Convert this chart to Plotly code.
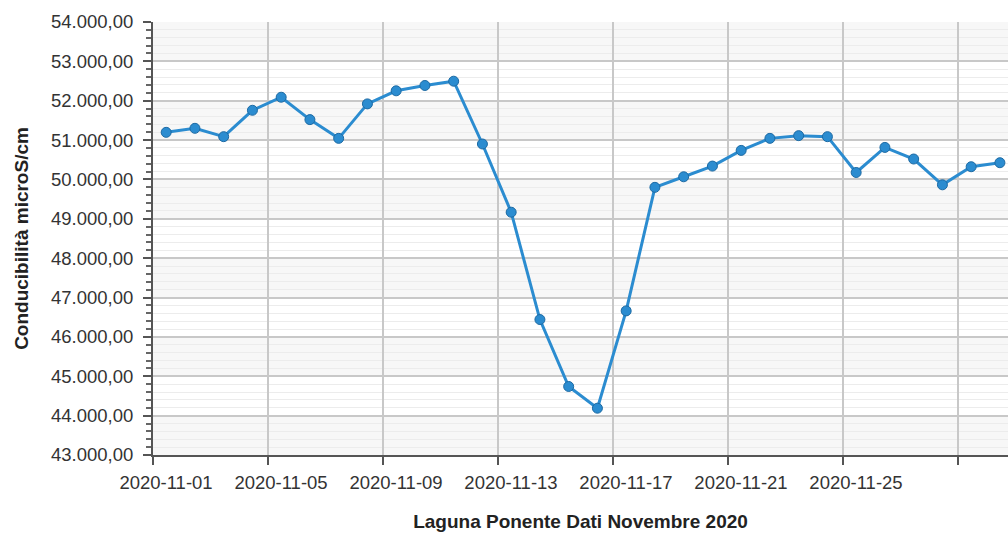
import plotly.graph_objects as go

# Data
dates = [
    "2020-11-01T11:00", "2020-11-02T11:00", "2020-11-03T11:00", "2020-11-04T11:00",
    "2020-11-05T11:00", "2020-11-06T11:00", "2020-11-07T11:00", "2020-11-08T11:00",
    "2020-11-09T11:00", "2020-11-10T11:00", "2020-11-11T11:00", "2020-11-12T11:00",
    "2020-11-13T11:00", "2020-11-14T11:00", "2020-11-15T11:00", "2020-11-16T11:00",
    "2020-11-17T11:00", "2020-11-18T11:00", "2020-11-19T11:00", "2020-11-20T11:00",
    "2020-11-21T11:00", "2020-11-22T11:00", "2020-11-23T11:00", "2020-11-24T11:00",
    "2020-11-25T11:00", "2020-11-26T11:00", "2020-11-27T11:00", "2020-11-28T11:00",
    "2020-11-29T11:00", "2020-11-30T11:00",
]
conductivity = [
    51197, 51299, 51087, 51757, 52089, 51520, 51044, 51920, 52252, 52387,
    52496, 50901, 49168, 46441, 44741, 44189, 46661, 49800, 50068, 50340,
    50738, 51044, 51113, 51087, 50177, 50814, 50519, 49864, 50323, 50425,
]
x_tickvals = ["2020-11-01", "2020-11-05", "2020-11-09", "2020-11-13",
              "2020-11-17", "2020-11-21", "2020-11-25", "2020-11-29"]
x_ticktext = ["2020-11-01", "2020-11-05", "2020-11-09", "2020-11-13",
              "2020-11-17", "2020-11-21", "2020-11-25", ""]
x_range = ["2020-11-01T00:00", "2020-11-30T17:45"]
y_range = [43000, 54000]
y_major = 1000
y_minor = 200
band_starts = [43000, 45000, 47000, 49000, 51000, 53000]

x_title = "Laguna Ponente Dati Novembre 2020"
y_title = "Conducibilità microS/cm"

FONT = "Liberation Sans, Arial, sans-serif"
BLUE = "#2b8cd0"

fig = go.Figure()
fig.add_trace(go.Scatter(
    x=dates, y=conductivity, mode="lines+markers",
    line=dict(color=BLUE, width=3),
    marker=dict(size=10, color=BLUE, line=dict(color="#1d6aa3", width=1)),
    showlegend=False,
))

shapes = []
for b in band_starts:
    shapes.append(dict(type="rect", xref="paper", yref="y", x0=0, x1=1,
                       y0=b, y1=b + y_major, fillcolor="#f7f7f7",
                       line=dict(width=0), layer="below"))

fig.update_layout(
    width=1008, height=536,
    margin=dict(l=153, r=0, t=22, b=81),
    paper_bgcolor="white", plot_bgcolor="white",
    separators=",.",
    font=dict(family=FONT, color="#333333"),
    shapes=shapes,
    xaxis=dict(
        type="date", range=x_range,
        tickvals=x_tickvals, ticktext=x_ticktext,
        showgrid=True, gridcolor="#c8c8c8", gridwidth=1.5,
        showline=True, linecolor="#555555", linewidth=2,
        ticks="outside", ticklen=8, tickwidth=2, tickcolor="#555555",
        ticklabelstandoff=2, ticklabelshift=13,
        tickfont=dict(size=18.5, color="#333333", family=FONT),
        title=dict(text="<b>" + x_title + "</b>",
                   font=dict(size=19, color="#222222", family=FONT), standoff=22),
        zeroline=False,
    ),
    yaxis=dict(
        range=y_range, dtick=y_major, tick0=y_range[0],
        tickformat=",.2f",
        showgrid=True, gridcolor="#c8c8c8", gridwidth=1.5,
        showline=True, linecolor="#555555", linewidth=2,
        ticks="outside", ticklen=8, tickwidth=2, tickcolor="#555555",
        ticklabelstandoff=6,
        tickfont=dict(size=18.5, color="#333333", family=FONT),
        minor=dict(dtick=y_minor, showgrid=True, gridcolor="#ececec", gridwidth=1,
                   ticks="outside", ticklen=5, tickwidth=1.5, tickcolor="#666666"),
        title=dict(text="<b>" + y_title + "</b>",
                   font=dict(size=19, color="#222222", family=FONT), standoff=17),
        zeroline=False,
    ),
)

fig.write_html(
    "out.html",
    config={"displayModeBar": False},
    post_script="document.body.style.margin='0';document.body.style.overflow='hidden';",
)
